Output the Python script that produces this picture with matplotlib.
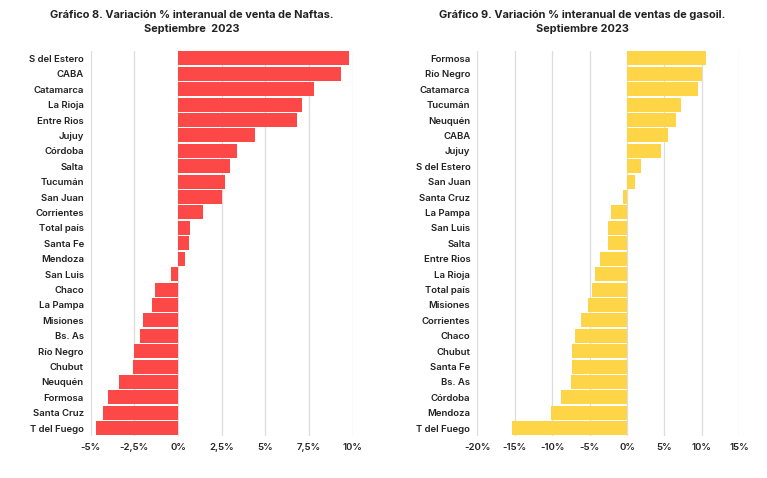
import matplotlib
matplotlib.use("Agg")
import matplotlib.pyplot as plt
from matplotlib.ticker import FuncFormatter

naftas_cats = ["S del Estero", "CABA", "Catamarca", "La Rioja", "Entre Rios", "Jujuy",
               "Córdoba", "Salta", "Tucumán", "San Juan", "Corrientes", "Total país",
               "Santa Fe", "Mendoza", "San Luis", "Chaco", "La Pampa", "Misiones",
               "Bs. As", "Río Negro", "Chubut", "Neuquén", "Formosa", "Santa Cruz",
               "T del Fuego"]
naftas_vals = [9.8, 9.3, 7.8, 7.1, 6.8, 4.4, 3.4, 3.0, 2.7, 2.5, 1.4, 0.7, 0.6, 0.4,
               -0.4, -1.3, -1.5, -2.0, -2.2, -2.5, -2.6, -3.4, -4.0, -4.3, -4.7]

gasoil_cats = ["Formosa", "Río Negro", "Catamarca", "Tucumán", "Neuquén", "CABA", "Jujuy",
               "S del Estero", "San Juan", "Santa Cruz", "La Pampa", "San Luis", "Salta",
               "Entre Rios", "La Rioja", "Total país", "Misiones", "Corrientes", "Chaco",
               "Chubut", "Santa Fe", "Bs. As", "Córdoba", "Mendoza", "T del Fuego"]
gasoil_vals = [10.5, 10.0, 9.5, 7.2, 6.5, 5.5, 4.6, 1.9, 1.0, -0.5, -2.1, -2.5, -2.6,
               -3.6, -4.3, -4.7, -5.2, -6.1, -7.0, -7.3, -7.4, -7.45, -8.8, -10.1, -15.3]

naftas_ticks = [-5, -2.5, 0, 2.5, 5, 7.5, 10]
gasoil_ticks = [-20, -15, -10, -5, 0, 5, 10, 15]

titles = ["Gráfico 8. Variación % interanual de venta de Naftas.\nSeptiembre  2023",
          "Gráfico 9. Variación % interanual de ventas de gasoil.\nSeptiembre 2023"]

RED = "#FD4848"
YELLOW = "#FDD546"
FONT = "Inter"

def pct(v, _):
    s = ("%g" % v).replace(".", ",")
    return s + "%"

fig = plt.figure(figsize=(7.67, 4.78), dpi=100)
bottom, top = 0.088, 0.894
ax1 = fig.add_axes([0.1183, bottom, 0.3416, top - bottom])
ax2 = fig.add_axes([0.6223, bottom, 0.3416, top - bottom])

for ax, cats, vals, ticks, color in [
        (ax1, naftas_cats, naftas_vals, naftas_ticks, RED),
        (ax2, gasoil_cats, gasoil_vals, gasoil_ticks, YELLOW)]:
    y = list(range(len(cats)))
    ax.barh(y, vals, height=0.91, color=color, zorder=2)
    ax.set_ylim(len(cats) - 0.5, -0.5)
    ax.set_xlim(ticks[0], ticks[-1])
    ax.set_xticks(ticks)
    ax.xaxis.set_major_formatter(FuncFormatter(pct))
    ax.set_yticks(y)
    ax.set_yticklabels(cats)
    ax.grid(axis="x", color="#DDDDDD", linewidth=0.9, zorder=0)
    ax.set_axisbelow(True)
    for s in ax.spines.values():
        s.set_visible(False)
    ax.tick_params(axis="y", length=0, labelsize=6.9, pad=5)
    ax.tick_params(axis="x", length=0, labelsize=6.9, pad=5)
    for lab in ax.get_xticklabels() + ax.get_yticklabels():
        lab.set_fontfamily(FONT)
        lab.set_fontweight("semibold")
        lab.set_color("#222222")

for xc, title in [(0.2500, titles[0]), (0.7590, titles[1])]:
    fig.text(xc, 1 - 22 / 478, title, ha="center", va="center", fontsize=7.9,
             fontweight="bold", family=FONT, linespacing=1.45, color="#222222")

fig.savefig("out.png", dpi=100)
